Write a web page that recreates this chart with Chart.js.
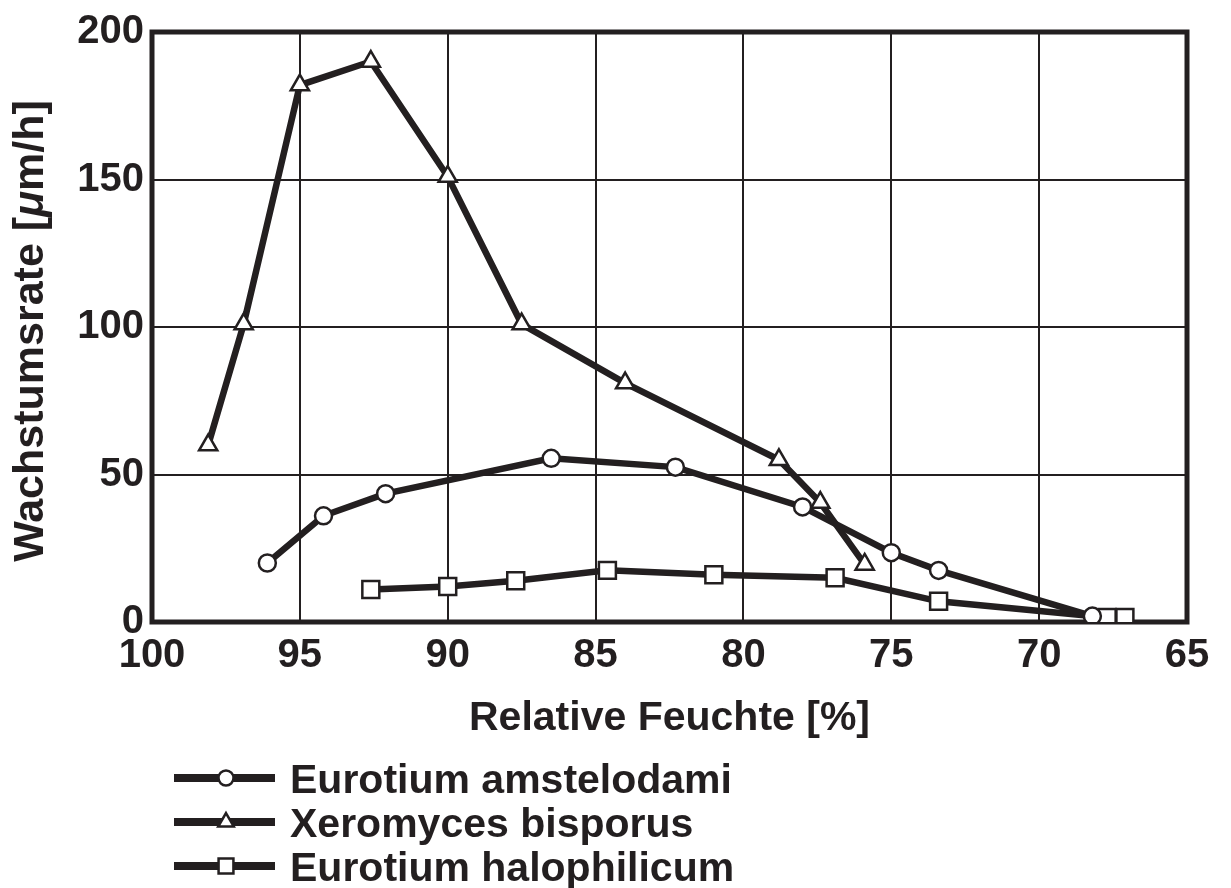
<!DOCTYPE html>
<html>
<head>
<meta charset="utf-8">
<title>Wachstumsrate</title>
<script src="https://cdn.jsdelivr.net/npm/chart.js@4.4.1/dist/chart.umd.min.js"></script>
<style>
  html, body { margin: 0; padding: 0; background: #fff; }
  canvas { display: block; }
</style>
</head>
<body>
<canvas id="myChart" width="1231" height="888"></canvas>
<script>
// relative humidity [%] and growth rate [µm/h] per species
var amstelodamiX = [96.1, 94.2, 92.1, 86.5, 82.3, 78.0, 75.0, 73.4, 68.2];
var amstelodamiY = [20, 36, 43.5, 55.5, 52.5, 39, 23.5, 17.5, 2];

var xeromycesX = [98.1, 96.9, 95.0, 92.6, 90.0, 87.5, 84.0, 78.8, 77.4, 75.9];
var xeromycesY = [60, 101, 182, 190, 151, 101, 81, 55, 40.5, 19.5];

var halophilicumX = [92.6, 90.0, 87.7, 84.6, 81.0, 76.9, 73.4, 67.7, 67.1];
var halophilicumY = [11, 12, 14, 17.5, 16, 15, 7, 1.5, 1.5];

var seriesNames = ['Eurotium amstelodami', 'Xeromyces bisporus', 'Eurotium halophilicum'];
var xTicks = [100, 95, 90, 85, 80, 75, 70, 65];
var yTicks = [0, 50, 100, 150, 200];

var ink = '#231f20';
var fontFamily = '"Liberation Sans", Arial, Helvetica, sans-serif';

function toPoints(xs, ys) {
    return xs.map(function(x, i) { return { x: x, y: ys[i] }; });
}

function series(label, xs, ys, style, radius) {
    return {
        label: label,
        data: toPoints(xs, ys),
        borderColor: ink,
        borderWidth: 6.5,
        tension: 0,
        pointStyle: style,
        pointRadius: radius,
        pointHoverRadius: radius,
        pointBackgroundColor: '#fff',
        pointBorderColor: ink,
        pointBorderWidth: 2.5
    };
}

// frame around the plot, axis titles and the legend below the chart
var decor = {
    id: 'decor',
    beforeDatasetsDraw: function(chart) {
        var a = chart.chartArea, ctx = chart.ctx;
        ctx.save();
        ctx.strokeStyle = ink;
        ctx.lineWidth = 5;
        ctx.strokeRect(a.left, a.top, a.right - a.left, a.bottom - a.top);
        ctx.restore();
    },
    afterDraw: function(chart) {
        var ctx = chart.ctx, a = chart.chartArea;
        ctx.save();
        ctx.fillStyle = ink;
        ctx.textBaseline = 'alphabetic';

        // y title with italic mu
        var parts = [
            ['Wachstumsrate [', 'bold 43px ' + fontFamily],
            ['\u03bc', 'bold italic 43px ' + fontFamily],
            ['m/h]', 'bold 43px ' + fontFamily]
        ];
        var total = 0;
        parts.forEach(function(p) { ctx.font = p[1]; total += ctx.measureText(p[0]).width; });
        ctx.save();
        ctx.translate(43, 331);
        ctx.rotate(-Math.PI / 2);
        var px = -total / 2;
        ctx.textAlign = 'left';
        parts.forEach(function(p) {
            ctx.font = p[1];
            ctx.fillText(p[0], px, 0);
            px += ctx.measureText(p[0]).width;
        });
        ctx.restore();

        // x title
        ctx.font = 'bold 41px ' + fontFamily;
        ctx.textAlign = 'center';
        ctx.fillText('Relative Feuchte [%]', (a.left + a.right) / 2, 730);

        // legend
        var rowY = [778, 822, 866];
        chart.data.datasets.forEach(function(ds, i) {
            var y = rowY[i];
            ctx.strokeStyle = ink;
            ctx.lineWidth = 8;
            ctx.beginPath();
            ctx.moveTo(174, y);
            ctx.lineTo(275, y);
            ctx.stroke();
            ctx.fillStyle = '#fff';
            ctx.strokeStyle = ink;
            ctx.lineWidth = 2.5;
            var r = ds.pointStyle === 'rect' ? 10.5 : (ds.pointStyle === 'triangle' ? 9 : 7.5);
            Chart.helpers.drawPoint(ctx, { pointStyle: ds.pointStyle, radius: r, rotation: 0, borderWidth: 2.5 }, 226, y);
            ctx.fillStyle = ink;
            ctx.font = 'bold 41px ' + fontFamily;
            ctx.textAlign = 'left';
            ctx.fillText(ds.label, 290, y + 15);
        });
        ctx.restore();
    }
};

var ctx = document.getElementById('myChart');
var chart = new Chart(ctx, {
    type: 'line',
    data: {
        datasets: [
            series(seriesNames[0], amstelodamiX, amstelodamiY, 'circle', 8.5),
            series(seriesNames[1], xeromycesX, xeromycesY, 'triangle', 10.5),
            series(seriesNames[2], halophilicumX, halophilicumY, 'rect', 12)
        ]
    },
    options: {
        responsive: false,
        animation: false,
        layout: { padding: { left: 0, right: 44, top: 32, bottom: 206 } },
        plugins: {
            legend: { display: false },
            tooltip: { enabled: false }
        },
        scales: {
            x: {
                type: 'linear',
                reverse: true,
                min: 65,
                max: 100,
                afterFit: function(scale) { scale.height = 60; },
                afterBuildTicks: function(scale) {
                    scale.ticks = xTicks.map(function(v) { return { value: v }; });
                },
                border: { display: false },
                grid: { color: ink, lineWidth: 2, drawTicks: false },
                ticks: {
                    color: ink,
                    padding: 10,
                    maxRotation: 0,
                    autoSkip: false,
                    font: { family: fontFamily, size: 40, weight: 'bold' }
                }
            },
            y: {
                min: 0,
                max: 200,
                afterFit: function(scale) { scale.width = 152; },
                afterBuildTicks: function(scale) {
                    scale.ticks = yTicks.map(function(v) { return { value: v }; });
                },
                border: { display: false },
                grid: { color: ink, lineWidth: 2, drawTicks: false },
                ticks: {
                    color: ink,
                    padding: 8,
                    font: { family: fontFamily, size: 40, weight: 'bold' }
                }
            }
        }
    },
    plugins: [decor]
});
</script>
</body>
</html>
